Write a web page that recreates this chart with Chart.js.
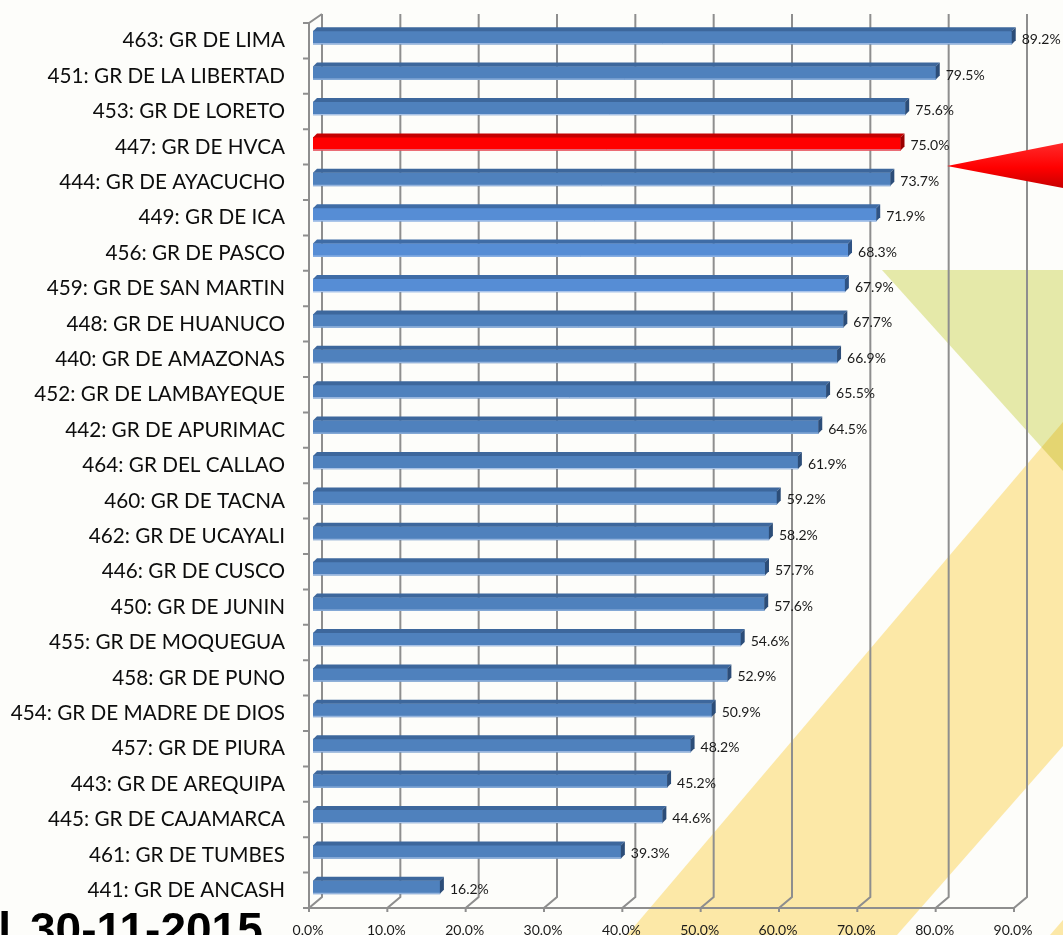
<!DOCTYPE html>
<html lang="es">
<head>
<meta charset="utf-8">
<title>Avance por Gobierno Regional</title>
<script src="https://cdn.jsdelivr.net/npm/chart.js"></script>
<style>
  html, body { margin: 0; padding: 0; background: #fdfdfa; overflow: hidden; }
</style>
</head>
<body>
<canvas id="avance" width="1063" height="935"></canvas>
<script>
// datos
const categorias = [
  '463: GR DE LIMA', '451: GR DE LA LIBERTAD', '453: GR DE LORETO', '447: GR DE HVCA',
  '444: GR DE AYACUCHO', '449: GR DE ICA', '456: GR DE PASCO', '459: GR DE SAN MARTIN',
  '448: GR DE HUANUCO', '440: GR DE AMAZONAS', '452: GR DE LAMBAYEQUE', '442: GR DE APURIMAC',
  '464: GR DEL CALLAO', '460: GR DE TACNA', '462: GR DE UCAYALI', '446: GR DE CUSCO',
  '450: GR DE JUNIN', '455: GR DE MOQUEGUA', '458: GR DE PUNO', '454: GR DE MADRE DE DIOS',
  '457: GR DE PIURA', '443: GR DE AREQUIPA', '445: GR DE CAJAMARCA', '461: GR DE TUMBES',
  '441: GR DE ANCASH'
];
const porcentajes = [89.2, 79.5, 75.6, 75.0, 73.7, 71.9, 68.3, 67.9, 67.7, 66.9, 65.5, 64.5,
  61.9, 59.2, 58.2, 57.7, 57.6, 54.6, 52.9, 50.9, 48.2, 45.2, 44.6, 39.3, 16.2];
const resaltado = '447: GR DE HVCA';
const masClaros = ['449: GR DE ICA', '456: GR DE PASCO', '459: GR DE SAN MARTIN'];
const ticksX = [0, 10, 20, 30, 40, 50, 60, 70, 80, 90];
const fechaPrefijo = 'Al';
const fechaCorte = '30-11-2015';

// colores: cara, techo, costado
function coloresBarra(cat) {
  if (cat === resaltado) return ['#ff0000', '#c40000', '#9a0000'];
  if (masClaros.includes(cat)) return ['#568dd5', '#3f6ca6', '#2f5384'];
  return ['#4f81bd', '#3d679c', '#2c4d78'];
}

function poly(c, pts) {
  c.beginPath();
  c.moveTo(pts[0][0], pts[0][1]);
  for (let i = 1; i < pts.length; i++) c.lineTo(pts[i][0], pts[i][1]);
  c.closePath();
  c.fill();
}

const FRENTE = -4, FONDO = 9, PROF = 11;

const fondo = {
  id: 'fondo',
  beforeDraw(chart) {
    const c = chart.ctx, W = chart.width, H = chart.height;
    c.save();
    c.fillStyle = '#fdfdfa';
    c.fillRect(0, 0, W, H);
    c.globalCompositeOperation = 'multiply';
    c.fillStyle = '#e7ebad';
    poly(c, [[882, 270], [W, 270], [W, 471]]);
    c.fillStyle = '#feeaab';
    poly(c, [[627, H], [897, H], [W, 746], [W, 422]]);
    poly(c, [[1050, H], [W, H], [W, 920]]);
    c.restore();
  }
};

const ejes3d = {
  id: 'ejes3d',
  beforeDatasetsDraw(chart) {
    const c = chart.ctx, xs = chart.scales.x, a = chart.chartArea;
    c.save();
    c.strokeStyle = '#8e8e8e';
    c.lineWidth = 2;
    c.beginPath();
    ticksX.forEach(v => {
      const p = xs.getPixelForValue(v);
      c.moveTo(p + FONDO, a.top - 9);
      c.lineTo(p + FONDO, a.bottom - PROF);
      c.lineTo(p + FRENTE, a.bottom);
      c.lineTo(p + FRENTE, a.bottom + 4);
    });
    const x0 = xs.getPixelForValue(0) + FRENTE;
    c.moveTo(x0, a.bottom);
    c.lineTo(xs.getPixelForValue(90) + FRENTE, a.bottom);
    c.moveTo(x0, a.bottom);
    c.lineTo(x0, a.top);
    c.lineTo(x0 + 13, a.top - 9);
    const paso = (a.bottom - a.top) / categorias.length;
    for (let i = 0; i <= categorias.length; i++) {
      const yb = a.top + i * paso;
      c.moveTo(x0 - 6, yb);
      c.lineTo(x0, yb);
    }
    c.stroke();
    c.restore();
    // barras un poco hacia atras
    c.save();
    c.translate(0, -3);
  },
  afterDatasetsDraw(chart) {
    const c = chart.ctx;
    const meta = chart.getDatasetMeta(0);
    meta.data.forEach((el, i) => {
      const col = coloresBarra(categorias[i]);
      const top = el.y - el.height / 2, bot = el.y + el.height / 2;
      c.fillStyle = col[1];
      poly(c, [[el.base, top], [el.base + 4, top - 4], [el.x + 4, top - 4], [el.x, top]]);
      c.fillStyle = col[2];
      poly(c, [[el.x, top], [el.x + 4, top - 4], [el.x + 4, bot - 4], [el.x, bot]]);
      c.strokeStyle = 'rgba(190,210,240,0.8)';
      c.lineWidth = 1;
      c.beginPath();
      c.moveTo(el.base, bot - 0.5);
      c.lineTo(el.x, bot - 0.5);
      c.stroke();
    });
    c.restore();
    // etiquetas de valor
    c.save();
    c.font = '14px Lato';
    c.fillStyle = '#1a1a1a';
    c.textAlign = 'left';
    c.textBaseline = 'middle';
    meta.data.forEach((el, i) => {
      c.fillText(porcentajes[i].toFixed(1) + '%', el.x + 10, el.y - 1);
    });
    c.restore();
  },
  afterDraw(chart) {
    const c = chart.ctx, W = chart.width;
    c.save();
    // flecha roja
    const g = c.createLinearGradient(0, 143, 0, 188);
    g.addColorStop(0, '#ff2a2a');
    g.addColorStop(0.55, '#ff0000');
    g.addColorStop(1, '#c80000');
    c.fillStyle = g;
    poly(c, [[947, 166], [W, 143], [W, 188]]);
    // fecha de corte
    c.font = 'bold 46px "Liberation Sans", Arial, sans-serif';
    c.fillStyle = '#000';
    c.textBaseline = 'alphabetic';
    c.textAlign = 'right';
    c.fillText(fechaPrefijo, 11, 945);
    c.textAlign = 'left';
    c.fillText(fechaCorte, 30, 945);
    c.restore();
  }
};

const ctx = document.getElementById('avance').getContext('2d');
new Chart(ctx, {
  type: 'bar',
  data: {
    labels: categorias,
    datasets: [{
      data: porcentajes,
      backgroundColor: categorias.map(c => coloresBarra(c)[0]),
      borderWidth: 0,
      barThickness: 13
    }]
  },
  options: {
    indexAxis: 'y',
    responsive: false,
    animation: false,
    layout: { padding: { top: 23, right: 45, left: 0, bottom: 0 } },
    plugins: { legend: { display: false }, tooltip: { enabled: false } },
    scales: {
      x: {
        min: 0,
        max: 90,
        grid: { display: false, drawTicks: false },
        border: { display: false },
        afterFit: s => { s.height = 27; s.paddingLeft = 0; s.paddingRight = 0; },
        ticks: {
          stepSize: 10,
          padding: 14,
          labelOffset: -5,
          color: '#1a1a1a',
          font: { family: 'Lato', size: 14 },
          callback: v => Number(v).toFixed(1) + '%'
        }
      },
      y: {
        grid: { display: false, drawTicks: false },
        border: { display: false },
        afterFit: s => { s.width = 313; s.paddingTop = 0; s.paddingBottom = 0; },
        ticks: {
          padding: 28,
          color: '#0d0d0d',
          font: { family: 'Lato', size: 20.7 }
        }
      }
    }
  },
  plugins: [fondo, ejes3d]
});
</script>
</body>
</html>
